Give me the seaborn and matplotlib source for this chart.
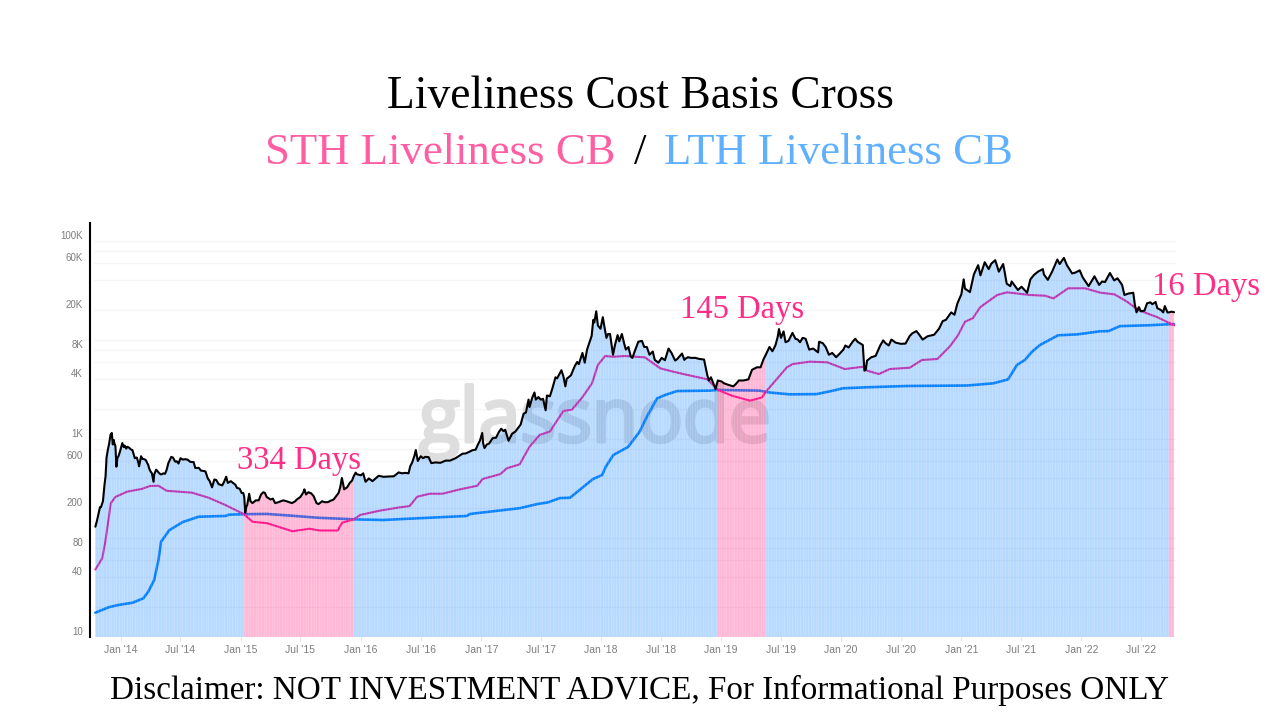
import numpy as np
import pandas as pd
import matplotlib
matplotlib.use("Agg")
import matplotlib.pyplot as plt
import matplotlib.patheffects as pe
import seaborn as sns

price_points = """
2013-10-15 130;2013-10-20 150;2013-10-25 178;2013-10-29 205;2013-11-01 205;2013-11-04 220;2013-11-07 235;2013-11-12 350;2013-11-15 420;2013-11-18 650;2013-11-22 780;2013-11-26 900;2013-11-30 1100;2013-12-04 1150;2013-12-07 880;2013-12-10 980;2013-12-12 900;2013-12-15 850;2013-12-18 525;2013-12-21 640;2013-12-25 680;2013-12-29 750;2014-01-05 910;2014-01-09 830;2014-01-12 860;2014-01-17 800;2014-01-20 835;2014-01-25 820;2014-01-30 790;2014-02-05 770;2014-02-09 690;2014-02-12 640;2014-02-18 650;2014-02-22 590;2014-02-25 530;2014-03-03 670;2014-03-07 630;2014-03-10 630;2014-03-17 615;2014-03-25 545;2014-03-28 500;2014-04-01 470;2014-04-05 450;2014-04-10 370;2014-04-12 440;2014-04-18 490;2014-04-25 460;2014-05-01 440;2014-05-05 440;2014-05-10 450;2014-05-15 445;2014-05-20 490;2014-05-25 570;2014-06-03 660;2014-06-08 650;2014-06-15 590;2014-06-20 595;2014-06-25 565;2014-07-01 640;2014-07-08 620;2014-07-15 625;2014-07-22 620;2014-07-30 590;2014-08-04 585;2014-08-10 585;2014-08-15 510;2014-08-20 510;2014-08-26 510;2014-09-01 480;2014-09-10 475;2014-09-15 470;2014-09-22 400;2014-09-28 375;2014-10-05 325;2014-10-12 390;2014-10-18 385;2014-10-25 350;2014-11-05 340;2014-11-10 365;2014-11-17 416;2014-11-22 360;2014-12-01 375;2014-12-08 360;2014-12-15 345;2014-12-20 320;2014-12-28 315;2015-01-03 285;2015-01-08 285;2015-01-11 260;2015-01-14 180;2015-01-17 205;2015-01-20 215;2015-01-26 280;2015-01-30 235;2015-02-05 225;2015-02-15 240;2015-02-24 240;2015-03-03 275;2015-03-10 290;2015-03-15 285;2015-03-20 260;2015-04-01 245;2015-04-08 250;2015-04-15 225;2015-04-25 230;2015-05-02 235;2015-05-10 240;2015-05-20 235;2015-06-05 225;2015-06-15 235;2015-06-20 245;2015-07-01 260;2015-07-10 290;2015-07-13 310;2015-07-18 275;2015-07-25 290;2015-08-03 282;2015-08-10 265;2015-08-19 225;2015-08-25 220;2015-09-05 235;2015-09-13 230;2015-09-22 230;2015-10-01 238;2015-10-10 245;2015-10-25 285;2015-10-30 325;2015-11-04 404;2015-11-08 350;2015-11-11 310;2015-11-20 325;2015-11-28 360;2015-12-05 380;2015-12-10 420;2015-12-16 457;2015-12-20 440;2016-01-01 430;2016-01-08 450;2016-01-15 370;2016-01-19 380;2016-01-25 400;2016-02-05 375;2016-02-15 400;2016-02-24 425;2016-03-10 415;2016-03-25 418;2016-04-10 420;2016-04-25 460;2016-05-05 450;2016-05-15 455;2016-05-25 450;2016-05-30 530;2016-06-05 580;2016-06-12 680;2016-06-16 774;2016-06-20 650;2016-06-22 600;2016-07-01 670;2016-07-08 640;2016-07-15 660;2016-07-25 655;2016-08-02 571;2016-08-15 580;2016-08-30 575;2016-09-15 605;2016-09-28 605;2016-10-15 640;2016-10-27 680;2016-11-05 710;2016-11-15 715;2016-11-25 740;2016-12-05 770;2016-12-15 780;2016-12-22 880;2016-12-28 960;2017-01-04 1150;2017-01-07 900;2017-01-11 810;2017-01-18 880;2017-01-25 900;2017-02-05 1020;2017-02-15 1030;2017-02-24 1180;2017-03-03 1270;2017-03-10 1200;2017-03-15 1240;2017-03-25 960;2017-04-05 1130;2017-04-15 1190;2017-05-01 1400;2017-05-10 1800;2017-05-17 1850;2017-05-25 2500;2017-05-28 2100;2017-06-05 2600;2017-06-12 2950;2017-06-16 2500;2017-06-24 2650;2017-07-01 2500;2017-07-08 2550;2017-07-16 1950;2017-07-20 2750;2017-07-29 2700;2017-08-05 3200;2017-08-15 4200;2017-08-20 4100;2017-09-02 4950;2017-09-08 4300;2017-09-14 3400;2017-09-18 4050;2017-10-01 4400;2017-10-12 5400;2017-10-20 6000;2017-10-25 5700;2017-11-05 7400;2017-11-12 5900;2017-11-19 8000;2017-11-28 9800;2017-12-03 11000;2017-12-08 16000;2017-12-11 15000;2017-12-17 19500;2017-12-22 14000;2017-12-30 13000;2018-01-06 17000;2018-01-11 13500;2018-01-17 10500;2018-01-22 11500;2018-01-28 11500;2018-02-02 8800;2018-02-06 7080;2018-02-12 8900;2018-02-20 11200;2018-02-25 9700;2018-03-05 11500;2018-03-12 9200;2018-03-17 8000;2018-03-25 8500;2018-04-01 6800;2018-04-06 6600;2018-04-15 8000;2018-04-24 9600;2018-05-05 9800;2018-05-12 8500;2018-05-20 8500;2018-05-28 7100;2018-06-07 7650;2018-06-13 6300;2018-06-24 5900;2018-07-04 6600;2018-07-14 6250;2018-07-25 8200;2018-08-03 7400;2018-08-14 6200;2018-08-20 6400;2018-09-04 7300;2018-09-11 6300;2018-09-15 6500;2018-09-22 6700;2018-10-01 6600;2018-10-15 6600;2018-10-25 6450;2018-11-10 6350;2018-11-14 5500;2018-11-20 4400;2018-11-25 3900;2018-12-01 4200;2018-12-15 3200;2018-12-22 3900;2018-12-28 3850;2019-01-03 3800;2019-01-10 3650;2019-01-20 3550;2019-02-07 3400;2019-02-15 3600;2019-02-24 3900;2019-03-10 3900;2019-03-25 4000;2019-04-05 5000;2019-04-20 5300;2019-05-01 5300;2019-05-10 6400;2019-05-16 7000;2019-05-22 7700;2019-05-28 8500;2019-06-06 7700;2019-06-15 8800;2019-06-22 10700;2019-06-26 12900;2019-07-02 10500;2019-07-10 12200;2019-07-16 9500;2019-07-25 9800;2019-08-06 11800;2019-08-15 10300;2019-08-22 10100;2019-08-29 9500;2019-09-06 10500;2019-09-15 10300;2019-09-26 8000;2019-10-08 8200;2019-10-23 7500;2019-10-26 9600;2019-11-06 9300;2019-11-15 8500;2019-11-25 7100;2019-12-05 7400;2019-12-17 6700;2019-12-28 7300;2020-01-08 8000;2020-01-14 8800;2020-01-24 8400;2020-02-05 9600;2020-02-13 10300;2020-02-20 9600;2020-03-07 8900;2020-03-12 4900;2020-03-16 5000;2020-03-20 6200;2020-04-02 6700;2020-04-15 6900;2020-04-29 8800;2020-05-08 9900;2020-05-15 9300;2020-05-25 8800;2020-06-02 10100;2020-06-15 9400;2020-07-01 9150;2020-07-15 9200;2020-07-28 11000;2020-08-05 11700;2020-08-17 12300;2020-08-25 11400;2020-09-05 10100;2020-09-20 10900;2020-10-10 11300;2020-10-25 13000;2020-11-05 15500;2020-11-15 16000;2020-12-01 19000;2020-12-11 18000;2020-12-20 23500;2021-01-01 29000;2021-01-08 41000;2021-01-12 33000;2021-01-27 30500;2021-02-08 46000;2021-02-21 57000;2021-02-28 45000;2021-03-13 61000;2021-03-25 52000;2021-04-02 59000;2021-04-14 64000;2021-04-25 49000;2021-05-08 58500;2021-05-12 50000;2021-05-19 37000;2021-05-30 35000;2021-06-03 39000;2021-06-12 35500;2021-06-22 32000;2021-07-03 34500;2021-07-20 30000;2021-07-30 41000;2021-08-10 45500;2021-08-22 49000;2021-09-06 52000;2021-09-09 46000;2021-09-21 40500;2021-10-04 49000;2021-10-20 65000;2021-10-27 58500;2021-11-09 67500;2021-11-18 57000;2021-12-04 47000;2021-12-14 48000;2021-12-27 50500;2022-01-05 43000;2022-01-23 35000;2022-02-10 44000;2022-02-24 36000;2022-03-05 39000;2022-03-14 38500;2022-03-29 47500;2022-04-11 40000;2022-04-21 42000;2022-05-05 36000;2022-05-12 28500;2022-05-25 29500;2022-06-08 30000;2022-06-13 22500;2022-06-18 19000;2022-06-25 21500;2022-07-01 19500;2022-07-12 19800;2022-07-20 23500;2022-07-30 24000;2022-08-05 23000;2022-08-15 24200;2022-08-20 21000;2022-09-01 20000;2022-09-07 19000;2022-09-12 22000;2022-09-20 19000;2022-09-24 19000;2022-10-02 19300;2022-10-10 19100
"""
sth_points = """
2013-10-15 48;2013-11-05 62.5;2013-11-15 95;2013-12-01 225;2013-12-15 260;2014-01-20 294;2014-03-05 313;2014-03-30 335;2014-04-25 337;2014-05-20 300;2014-08-05 287;2014-09-25 255;2014-11-15 215;2015-01-10 174;2015-02-05 146;2015-03-22 141;2015-06-06 117;2015-07-28 124;2015-08-28 119;2015-10-22 119;2015-11-05 143;2015-12-10 154;2015-12-30 171;2016-02-28 189;2016-04-28 204;2016-05-28 210;2016-06-20 261;2016-07-28 280;2016-09-05 280;2016-10-28 310;2016-12-20 337;2017-01-05 394;2017-02-28 442;2017-03-20 506;2017-04-28 555;2017-05-28 836;2017-06-28 1100;2017-07-29 1190;2017-09-08 1920;2017-10-04 1980;2017-11-06 2670;2017-12-04 3650;2017-12-22 5590;2018-01-13 6890;2018-02-07 6770;2018-03-14 6890;2018-05-14 6680;2018-06-30 5170;2018-08-08 4790;2018-09-08 4530;2018-11-20 4010;2018-12-22 3130;2019-02-03 2735;2019-03-30 2440;2019-05-05 2630;2019-05-17 3000;2019-06-30 4430;2019-07-20 5300;2019-08-07 5720;2019-09-28 6040;2019-11-20 5950;2020-01-12 5090;2020-03-08 5370;2020-03-20 4900;2020-04-25 4530;2020-05-28 5090;2020-07-28 5250;2020-09-03 6280;2020-10-20 6430;2020-11-28 8700;2020-12-22 11200;2021-01-12 15300;2021-02-05 16600;2021-02-27 21400;2021-04-20 28500;2021-05-20 30300;2021-07-28 28500;2021-09-13 28000;2021-10-08 26300;2021-11-22 33300;2022-01-12 33300;2022-02-27 30100;2022-04-12 28900;2022-05-20 24400;2022-06-23 20100;2022-08-20 17000;2022-10-10 14060
"""
lth_points = """
2013-10-15 17.6;2013-11-25 20;2013-12-22 21;2014-02-05 22.2;2014-03-10 24.6;2014-03-25 28.7;2014-04-12 37.7;2014-04-25 60;2014-05-03 92;2014-05-28 120;2014-07-08 145;2014-08-25 164;2014-11-15 167;2014-11-25 172;2015-01-10 174;2015-03-20 175;2015-05-25 169;2015-08-25 160;2015-12-20 154;2016-03-10 152;2016-04-28 155;2016-11-18 167;2016-11-28 175;2017-04-28 200;2017-06-20 220;2017-07-23 229;2017-08-28 253;2017-09-28 255;2017-12-07 394;2018-01-04 433;2018-01-15 525;2018-02-07 689;2018-03-24 832;2018-04-28 1186;2018-05-20 1680;2018-06-20 2570;2018-07-14 2780;2018-08-20 3050;2018-11-28 3080;2018-12-20 3130;2019-04-28 3080;2019-05-28 2950;2019-07-28 2825;2019-10-18 2840;2019-12-03 3055;2020-01-06 3250;2020-03-20 3330;2020-07-18 3430;2021-01-18 3470;2021-04-08 3650;2021-05-23 4000;2021-06-19 5590;2021-07-13 6280;2021-08-04 7620;2021-08-28 8900;2021-10-22 11150;2021-12-20 11400;2022-02-27 12250;2022-03-25 12300;2022-04-28 13800;2022-07-28 14100;2022-10-10 14500
"""


def parse(text):
    rows = [r.split() for r in text.strip().split(";")]
    return pd.DataFrame({"date": pd.to_datetime([r[0] for r in rows]),
                         "value": [float(r[1]) for r in rows]})


price = parse(price_points)
sth = parse(sth_points)
lth = parse(lth_points)

pink_starts = ["2015-01-11", "2018-12-22", "2022-09-24"]
pink_ends = ["2015-12-10", "2019-05-16", "2022-10-10"]

x_tick_dates = ["2014-01-01", "2014-07-01", "2015-01-01", "2015-07-01", "2016-01-01", "2016-07-01",
                "2017-01-01", "2017-07-01", "2018-01-01", "2018-07-01", "2019-01-01", "2019-07-01",
                "2020-01-01", "2020-07-01", "2021-01-01", "2021-07-01", "2022-01-01", "2022-07-01"]
x_tick_labels = ["Jan '14", "Jul '14", "Jan '15", "Jul '15", "Jan '16", "Jul '16", "Jan '17", "Jul '17",
                 "Jan '18", "Jul '18", "Jan '19", "Jul '19", "Jan '20", "Jul '20", "Jan '21", "Jul '21",
                 "Jan '22", "Jul '22"]
y_ticks = [10, 40, 80, 200, 600, 1000, 4000, 8000, 20000, 60000, 100000]
y_tick_labels = ["10", "40", "80", "200", "600", "1K", "4K", "8K", "20K", "60K", "100K"]
grid_levels = [10, 20, 40, 60, 80, 100, 200, 400, 600, 800, 1000, 2000, 4000, 6000, 8000, 10000,
               20000, 40000, 60000, 80000, 100000]

sns.set_theme(style="white")
plt.rcParams["font.family"] = ["Liberation Serif", "DejaVu Serif"]

fig = plt.figure(figsize=(12.8, 7.2), dpi=100, facecolor="white")
ax = fig.add_axes([90 / 1280, 83 / 720, 1086 / 1280, 414 / 720])
ax.set_yscale("log")
ax.set_ylim(10, 10 ** (1 + 414 / 99))
ax.set_xlim(pd.Timestamp("2013-09-28 16:00"), pd.Timestamp("2022-10-16"))

ax.hlines(grid_levels, pd.Timestamp("2013-10-10"), pd.Timestamp("2022-10-16"),
          color="#f5f5f5", lw=1, zorder=1)

# watermark sits under the translucent fill
ax.text(595 / 1280, 1 - 422 / 720, "glassnode", transform=fig.transFigure, ha="center", va="center",
        fontsize=54, family="Open Sans", color="#dedede", zorder=1.5,
        path_effects=[pe.withStroke(linewidth=2.5, foreground="#dedede")])

sns.lineplot(data=lth, x="date", y="value", ax=ax, color="#0080ff", lw=1.9, estimator=None, zorder=2)
sns.lineplot(data=sth, x="date", y="value", ax=ax, color="#ff1493", lw=1.5, estimator=None, zorder=2)

d = price["date"]
pink_mask = np.zeros(len(d), bool)
for a, b in zip(pink_starts, pink_ends):
    pink_mask |= ((d >= a) & (d <= b)).values
boundary = d.isin(pd.to_datetime(pink_starts + pink_ends)).values
blue_mask = ~pink_mask | boundary

ax.fill_between(d, 10, price["value"], where=blue_mask, color="#1a85ff", alpha=0.3, lw=0, zorder=3)
ax.fill_between(d, 10, price["value"], where=pink_mask, color="#ff1a7a", alpha=0.3, lw=0, zorder=3)

# the faint daily-bar striping of the original, clipped to the area under the price
outline = ax.fill_between(d, 10, price["value"], color="none", lw=0)
stripes = ax.vlines(pd.date_range(d.iloc[0], d.iloc[-1], freq="8D"), 10, 1e5, color="white", lw=0.6, alpha=0.15, zorder=3.5)
stripes.set_clip_path(outline.get_paths()[0], ax.transData)

sns.lineplot(data=price, x="date", y="value", ax=ax, color="black", lw=1.5, estimator=None, zorder=4)

ax.set_xlabel("")
ax.set_ylabel("")
ax.set_xticks(pd.to_datetime(x_tick_dates))
ax.set_xticklabels(x_tick_labels, family="Liberation Sans", fontsize=7.5, color="#7d7d7d")
ax.set_yticks(y_ticks)
ax.set_yticklabels(y_tick_labels, family="Liberation Sans", fontsize=7, color="#7d7d7d")
ax.minorticks_off()
for lab in ax.get_yticklabels():
    lab.set_verticalalignment("bottom")
ax.tick_params(axis="x", length=3, width=0.8, color="#e4e4e4", pad=3, bottom=True)
ax.tick_params(axis="y", length=0, pad=5)
for s in ("top", "right", "bottom"):
    ax.spines[s].set_visible(False)
ax.spines["left"].set_color("black")
ax.spines["left"].set_linewidth(1.5)

def T(x, y, s, **kw):
    fig.text(x / 1280, 1 - y / 720, s, va="center", **kw)

T(640, 97, "Liveliness Cost Basis Cross", ha="center", fontsize=32.8, color="black")
T(265, 153, "STH Liveliness CB", ha="left", fontsize=32.2, color="#ff5fa2")
T(640, 153, "/", ha="center", fontsize=32.2, color="black")
T(664, 153, "LTH Liveliness CB", ha="left", fontsize=32.2, color="#5fb0ff")
T(299, 461, "334 Days", ha="center", fontsize=23.5, color="#ff2d86")
T(742, 310, "145 Days", ha="center", fontsize=23.5, color="#ff2d86")
T(1206, 287, "16 Days", ha="center", fontsize=23.5, color="#ff2d86")
T(640, 690, "Disclaimer: NOT INVESTMENT ADVICE, For Informational Purposes ONLY", ha="center", fontsize=23.9, color="black")

fig.savefig("out.png", dpi=100, facecolor="white")
